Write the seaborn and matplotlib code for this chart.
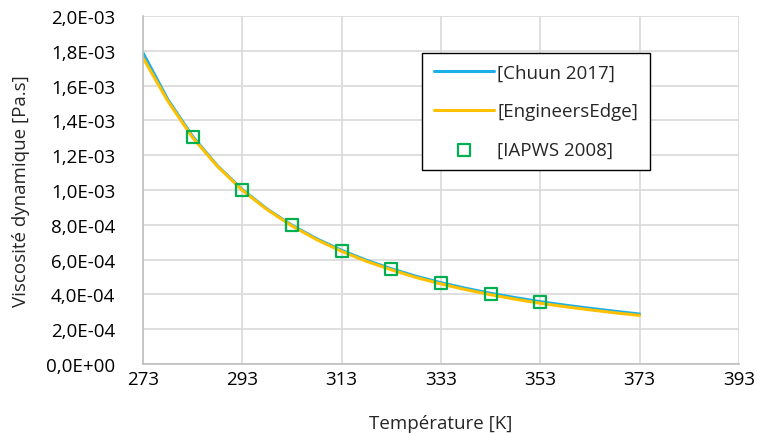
import matplotlib
matplotlib.use('Agg')
import matplotlib.pyplot as plt
import matplotlib.ticker as ticker
import pandas as pd
import seaborn as sns
import numpy as np

# Data
temp_curve = [273, 278, 283, 288, 293, 298, 303, 308, 313, 318, 323,
              328, 333, 338, 343, 348, 353, 358, 363, 368, 373]
visc_chuun = [1.787e-3, 1.519e-3, 1.307e-3, 1.138e-3, 1.002e-3, 0.890e-3, 0.797e-3,
              0.719e-3, 0.653e-3, 0.596e-3, 0.547e-3, 0.504e-3, 0.467e-3, 0.435e-3,
              0.406e-3, 0.381e-3, 0.358e-3, 0.338e-3, 0.320e-3, 0.303e-3, 0.287e-3]
visc_engedge = [1.759e-3, 1.510e-3, 1.300e-3, 1.135e-3, 0.998e-3, 0.887e-3, 0.793e-3,
                0.714e-3, 0.647e-3, 0.590e-3, 0.541e-3, 0.497e-3, 0.460e-3, 0.427e-3,
                0.398e-3, 0.372e-3, 0.349e-3, 0.329e-3, 0.311e-3, 0.294e-3, 0.279e-3]
temp_iapws = [283, 293, 303, 313, 323, 333, 343, 353]
visc_iapws = [1.302e-3, 1.002e-3, 0.797e-3, 0.651e-3, 0.547e-3, 0.467e-3, 0.404e-3, 0.355e-3]

df_chuun = pd.DataFrame({'T': temp_curve, 'mu': visc_chuun})
df_edge = pd.DataFrame({'T': temp_curve, 'mu': visc_engedge})
df_iapws = pd.DataFrame({'T': temp_iapws, 'mu': visc_iapws})

sns.set_style('white')
plt.rcParams['font.family'] = ['Open Sans', 'DejaVu Sans']

fig = plt.figure(figsize=(7.57, 4.35), dpi=100)
ax = fig.add_axes([0.189, 0.161, 0.787, 0.800])

sns.lineplot(data=df_chuun, x='T', y='mu', color='#1cb0e8', linewidth=2.2,
             label='[Chuun 2017]', ax=ax)
sns.lineplot(data=df_edge, x='T', y='mu', color='#ffc000', linewidth=2.2,
             label='[EngineersEdge]', ax=ax)
sns.scatterplot(data=df_iapws, x='T', y='mu', marker='s', s=75, facecolor='none',
                edgecolor='#00b050', linewidth=1.6, label='[IAPWS 2008]', ax=ax, zorder=5)

ax.set_xlim(273, 393)
ax.set_ylim(0, 2.0e-3)
ax.set_xticks(np.arange(273, 394, 20))
ax.set_yticks(np.arange(0, 2.01e-3, 2e-4))
ax.yaxis.set_major_formatter(ticker.FuncFormatter(lambda v, p: f'{v:.1E}'.replace('.', ',')))
ax.grid(True, color='#d9d9d9', linewidth=1.2)
ax.set_axisbelow(True)
for s in ['top', 'right']:
    ax.spines[s].set_visible(False)
for s in ['left', 'bottom']:
    ax.spines[s].set_color('#bfbfbf')
    ax.spines[s].set_linewidth(1.2)
ax.tick_params(axis='both', length=0, labelsize=13.5, colors='#000000')
ax.tick_params(axis='y', pad=20)
ax.tick_params(axis='x', pad=4)

ax.set_xlabel('Température [K]', fontsize=13.5, labelpad=19)
ax.set_ylabel('Viscosité dynamique [Pa.s]', fontsize=13.5, labelpad=12)

leg = ax.legend(loc='upper left', bbox_to_anchor=(0.469, 0.895), fontsize=13.5,
                frameon=True, fancybox=False, edgecolor='black', framealpha=1,
                handlelength=3.2, handletextpad=0.2, borderpad=0.6, labelspacing=1.1,
                borderaxespad=0)
leg.get_frame().set_linewidth(1.0)

fig.savefig('out.png', dpi=100)
